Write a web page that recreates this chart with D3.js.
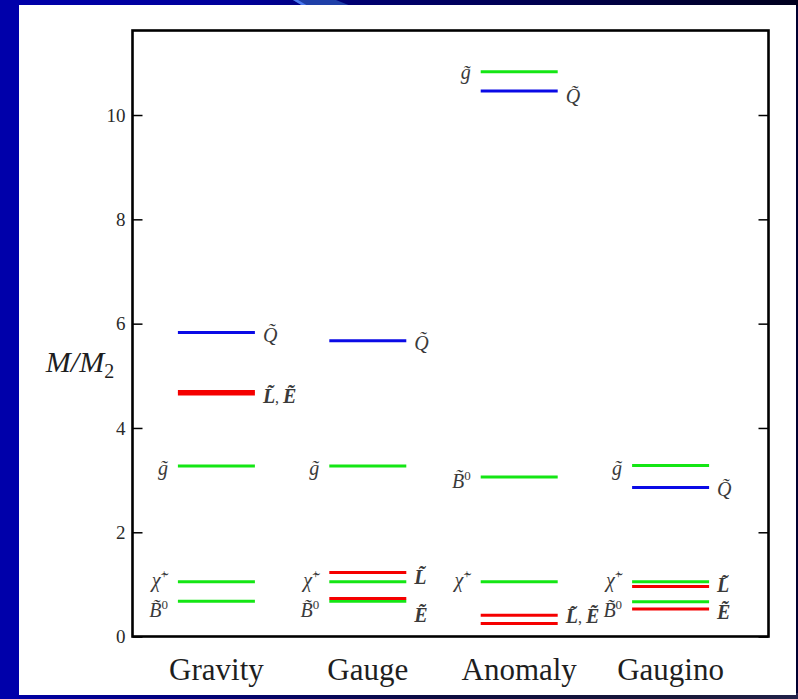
<!DOCTYPE html>
<html>
<head>
<meta charset="utf-8">
<script src="https://cdn.jsdelivr.net/npm/d3@7"></script>
<style>
  html, body { margin: 0; padding: 0; background: #ffffff; }
  svg { display: block; }
</style>
</head>
<body>
<svg id="chart" width="798" height="699"></svg>
<script>
// Mass spectra (in units of M2) for four SUSY-breaking mediation schemes
const categories = ["Gravity", "Gauge", "Anomaly", "Gaugino"];

// one value per scheme, same order as categories
const gluino   = [3.27, 3.27, 10.83, 3.28];
const squark   = [5.83, 5.67, 10.46, 2.86];
const chargino = [1.05, 1.05, 1.05, 1.05];
const bino     = [0.68, 0.68, 3.06, 0.67];
const sleptonL = [4.70, 1.23, 0.41, 0.96];
const sleptonE = [4.65, 0.73, 0.25, 0.53];

const yTicks = [0, 2, 4, 6, 8, 10];
const yMax = 11.63;

// symbol labels: [scheme, side, symbol, anchor value in M/M2 units]
const symbolLabels = [
  ["Gravity", "left", "g", 3.27], ["Gravity", "left", "chi", 1.13], ["Gravity", "left", "B", 0.55],
  ["Gravity", "right", "Q", 5.83], ["Gravity", "right", "LE", 4.66],
  ["Gauge", "left", "g", 3.27], ["Gauge", "left", "chi", 1.13], ["Gauge", "left", "B", 0.55],
  ["Gauge", "right", "Q", 5.67], ["Gauge", "right", "L", 1.18], ["Gauge", "right", "E", 0.45],
  ["Anomaly", "left", "g", 10.86], ["Anomaly", "left", "B", 3.03], ["Anomaly", "left", "chi", 1.13],
  ["Anomaly", "right", "Q", 10.40], ["Anomaly", "right", "LE", 0.43],
  ["Gaugino", "left", "g", 3.27], ["Gaugino", "left", "chi", 1.13], ["Gaugino", "left", "B", 0.55],
  ["Gaugino", "right", "Q", 2.86], ["Gaugino", "right", "L", 1.02], ["Gaugino", "right", "E", 0.51]
];

const colors = { green: "#14e614", blue: "#0a0ae6", red: "#f50000" };

const series = [
  { values: squark,   color: colors.blue },
  { values: gluino,   color: colors.green },
  { values: chargino, color: colors.green },
  { values: bino,     color: colors.green },
  { values: sleptonL, color: colors.red },
  { values: sleptonE, color: colors.red }
];

const W = 798, H = 699;
const plot = { left: 132.5, top: 30.5, right: 768.5, bottom: 636.5 };
const serif = "'Liberation Serif', 'Times New Roman', serif";

const svg = d3.select("#chart");

// ---- slide frame ----
const defs = svg.append("defs");
const topGrad = defs.append("linearGradient").attr("id", "topGrad");
topGrad.selectAll("stop").data([
  ["0%", "#0000aa"], ["30%", "#00009a"], ["45%", "#000070"], ["75%", "#000045"], ["100%", "#00001e"]
]).join("stop").attr("offset", d => d[0]).attr("stop-color", d => d[1]);
const botGrad = defs.append("linearGradient").attr("id", "botGrad");
botGrad.selectAll("stop").data([
  ["0%", "#0000a8"], ["20%", "#000080"], ["55%", "#0c0c40"], ["85%", "#181838"], ["100%", "#22224a"]
]).join("stop").attr("offset", d => d[0]).attr("stop-color", d => d[1]);

svg.append("rect").attr("width", W).attr("height", H).attr("fill", "#000030");
svg.append("rect").attr("x", 0).attr("y", 0).attr("width", W).attr("height", 6).attr("fill", "url(#topGrad)");
svg.append("polygon").attr("points", "293,0 336,0 351,6 303,6").attr("fill", "#1f3fa8");
svg.append("polygon").attr("points", "293,0 298,0 308,6 303,6").attr("fill", "#4a78f0");
svg.append("rect").attr("x", 0).attr("y", 693).attr("width", W).attr("height", 6).attr("fill", "url(#botGrad)");
svg.append("rect").attr("x", 0).attr("y", 0).attr("width", 19).attr("height", H).attr("fill", "#0000aa");
svg.append("rect").attr("x", 19).attr("y", 5).attr("width", 777).attr("height", 690).attr("fill", "#ffffff");

// ---- scales ----
const x = d3.scalePoint().domain(categories).range([216.4, 670.6]);
const y = d3.scaleLinear().domain([0, yMax]).range([636.6, 30]);
const halfLen = 38.5;   // half the length of a mass level
const gapLeft = 10, gapRight = 8;

// ---- axes ----
svg.append("g")
  .attr("transform", `translate(${plot.left},0)`)
  .call(d3.axisLeft(y).tickValues(yTicks).tickSize(-10).tickPadding(7).tickFormat(d3.format("d")))
  .call(g => g.select(".domain").remove())
  .call(g => g.selectAll(".tick line").attr("stroke", "#000").attr("stroke-width", 1.5))
  .call(g => g.selectAll(".tick text")
    .attr("font-family", serif).attr("font-size", 19).attr("fill", "#2a2a2a"));

svg.append("g")
  .attr("transform", `translate(${plot.right},0)`)
  .call(d3.axisRight(y).tickValues(yTicks).tickSize(-10).tickFormat(""))
  .call(g => g.select(".domain").remove())
  .call(g => g.selectAll(".tick line").attr("stroke", "#000").attr("stroke-width", 1.5));

svg.append("rect")
  .attr("x", plot.left).attr("y", plot.top)
  .attr("width", plot.right - plot.left).attr("height", plot.bottom - plot.top)
  .attr("fill", "none").attr("stroke", "#000").attr("stroke-width", 2.6);

// category names under the frame
svg.append("g").selectAll("text").data(categories).join("text")
  .attr("x", d => x(d)).attr("y", 680)
  .attr("text-anchor", "middle")
  .attr("font-family", serif).attr("font-size", 31).attr("fill", "#1e1e1e")
  .text(d => d);

// y-axis title M/M2
const yTitle = svg.append("text")
  .attr("x", 80).attr("y", 372).attr("text-anchor", "middle")
  .attr("font-family", serif).attr("font-size", 30).attr("fill", "#1e1e1e");
yTitle.append("tspan").attr("font-style", "italic").text("M/M");
yTitle.append("tspan").attr("font-size", 20).attr("dy", 6).text("2");

// ---- mass levels ----
const levels = [];
series.forEach(s => s.values.forEach((v, i) => levels.push({ cat: categories[i], v, color: s.color })));

svg.append("g").selectAll("line").data(levels).join("line")
  .attr("x1", d => x(d.cat) - halfLen).attr("x2", d => x(d.cat) + halfLen)
  .attr("y1", d => y(d.v)).attr("y2", d => y(d.v))
  .attr("stroke", d => d.color).attr("stroke-width", 3);

// ---- particle symbols ----
const labelG = svg.append("g")
  .attr("font-family", serif).attr("fill", "#3a3a3a");

symbolLabels.forEach(([cat, side, sym, v]) => {
  const left = side === "left";
  const t = labelG.append("text")
    .attr("x", left ? x(cat) - halfLen - gapLeft : x(cat) + halfLen + gapRight)
    .attr("y", y(v) + 9)
    .attr("text-anchor", left ? "end" : "start")
    .attr("font-size", 20)
    .attr("font-style", "italic");
  if (sym === "g") {
    t.append("tspan").text("g\u0303");
  } else if (sym === "Q") {
    t.append("tspan").text("Q\u0303");
  } else if (sym === "chi") {
    t.append("tspan").text("\u03c7\u0303");
    t.append("tspan").attr("font-size", 13).attr("font-style", "normal").attr("dy", -8).text("+");
  } else if (sym === "B") {
    t.append("tspan").text("B\u0303");
    t.append("tspan").attr("font-size", 13).attr("font-style", "normal").attr("dy", -8).text("0");
  } else if (sym === "L") {
    t.append("tspan").attr("font-weight", "bold").text("L\u0303");
  } else if (sym === "E") {
    t.append("tspan").attr("font-weight", "bold").text("E\u0303");
  } else if (sym === "LE") {
    t.append("tspan").attr("font-weight", "bold").text("L\u0303");
    t.append("tspan").attr("font-style", "normal").attr("font-size", 16).text(", ");
    t.append("tspan").attr("font-weight", "bold").text("E\u0303");
  }
});
</script>
</body>
</html>
